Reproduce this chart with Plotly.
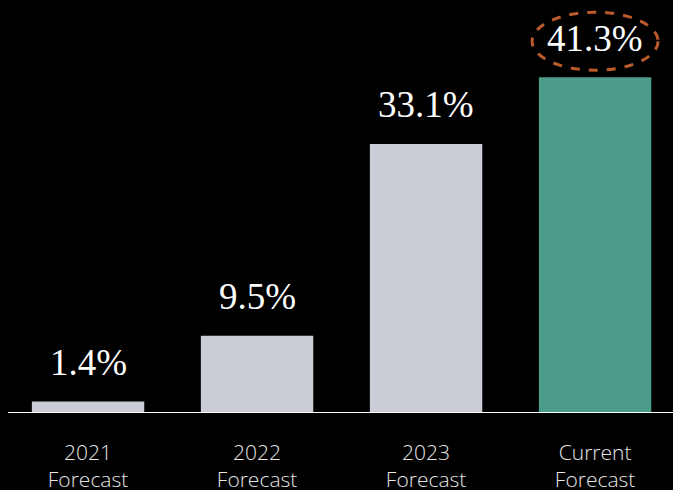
import plotly.graph_objects as go

# Forecast values (%)
categories = ["2021 Forecast", "2022 Forecast", "2023 Forecast", "Current Forecast"]
tick_labels = ["2021<br>Forecast", "2022<br>Forecast", "2023<br>Forecast", "Current<br>Forecast"]
values = [1.4, 9.5, 33.1, 41.3]
value_labels = ["1.4%", "9.5%", "33.1%", "41.3%"]

GRAY = "#cacdd5"
GREEN = "#4b9d8a"
ORANGE = "#bb5b2b"
colors = [GRAY, GRAY, GRAY, GREEN]

positions = list(range(len(categories)))

fig = go.Figure(
    go.Bar(
        x=positions,
        y=values,
        marker=dict(color=colors, line=dict(width=0)),
        width=0.665,
        hoverinfo="skip",
    )
)

# value labels above each bar
for xpos, v, lab in zip(positions, values, value_labels):
    fig.add_annotation(
        x=xpos, y=v, text=lab, showarrow=False,
        xanchor="center", yanchor="middle", yshift=39,
        font=dict(family="Liberation Serif", size=37, color="white"),
    )

# dashed ellipse highlighting the current forecast
fig.add_shape(
    type="circle", xref="x", yref="y",
    xsizemode="pixel", ysizemode="pixel",
    xanchor=positions[-1], yanchor=values[-1],
    x0=-63, x1=63, y0=7, y1=65,
    line=dict(color=ORANGE, width=3, dash="dash"),
)

# baseline
fig.add_shape(
    type="line", xref="paper", yref="y",
    x0=8 / 673, x1=1, y0=0, y1=0,
    line=dict(color="white", width=2),
)

fig.update_layout(
    width=673, height=490,
    margin=dict(l=0, r=0, t=0, b=77),
    paper_bgcolor="black", plot_bgcolor="black",
    showlegend=False,
    xaxis=dict(
        range=[-0.521, 3.461], automargin=False,
        tickmode="array", tickvals=positions, ticktext=tick_labels,
        showgrid=False, zeroline=False, showline=False, ticks="",
        ticklabelstandoff=25,
        tickfont=dict(family="Open Sans", size=21, color="#e6e6e6", weight=300),
    ),
    yaxis=dict(
        range=[0, 50.8], visible=False, automargin=False,
        showgrid=False, zeroline=False,
    ),
)

fig.write_html("out.html")
